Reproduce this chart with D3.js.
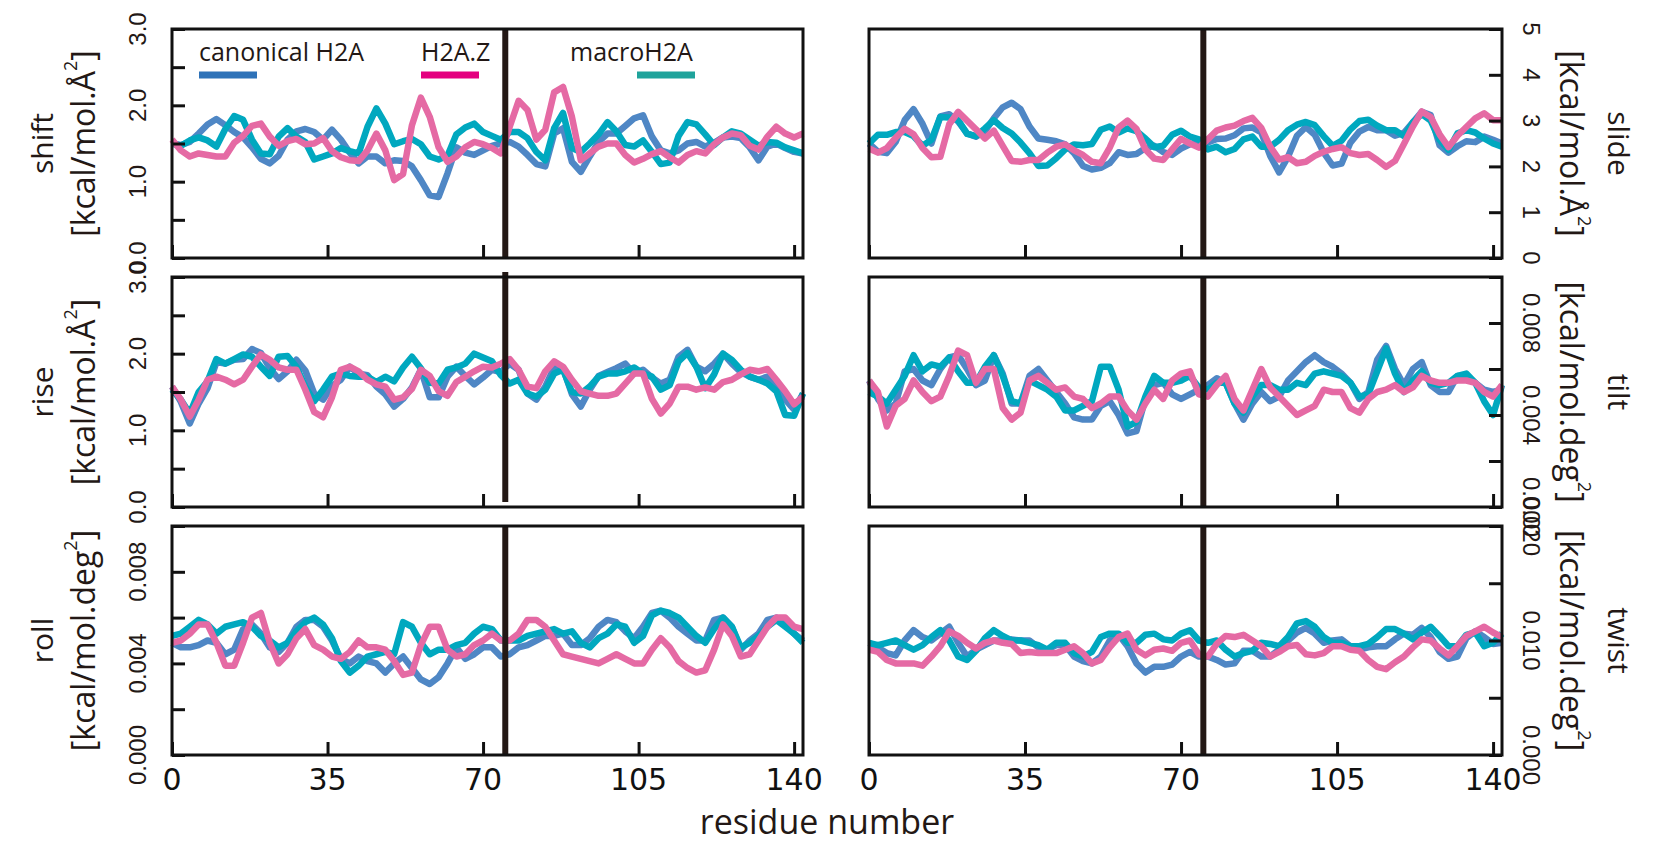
<!DOCTYPE html>
<html>
<head>
<meta charset="utf-8">
<script src="https://cdn.jsdelivr.net/npm/d3@7"></script>
<style>
  body { margin: 0; background: #fff; }
  svg { display: block; }
</style>
</head>
<body>
<svg id="chart"></svg>
<script>
// residue positions sampled every 2 residues
const residues = d3.range(0, 143, 2);
const seriesNames = ["canonical H2A", "H2A.Z", "macroH2A"];
const xTickValues = [0, 35, 70, 105, 140];
const boundaryResidue = 75;

// ---- shift [kcal/mol.Å2]
const shiftCanonical = [1.50,1.48,1.52,1.63,1.75,1.82,1.74,1.65,1.58,1.45, 1.30,1.24,1.34,1.55,1.66,1.69,1.65,1.55,1.68,1.55,
  1.38,1.24,1.33,1.33,1.24,1.28,1.27,1.20,1.02,0.82, 0.80,1.11,1.45,1.38,1.35,1.41,1.47,1.50,1.52,1.46,
  1.35,1.23,1.20,1.63,1.70,1.26,1.13,1.33,1.52,1.63, 1.63,1.73,1.83,1.87,1.59,1.41,1.37,1.41,1.50,1.52,
  1.46,1.51,1.58,1.59,1.57,1.45,1.28,1.46,1.50,1.44, 1.39,1.37];
const shiftH2AZ = [1.55,1.41,1.33,1.37,1.35,1.33,1.33,1.51,1.60,1.73, 1.76,1.59,1.47,1.53,1.56,1.49,1.50,1.57,1.40,1.32,
  1.28,1.27,1.41,1.63,1.41,1.02,1.10,1.74,2.10,1.85, 1.45,1.26,1.33,1.45,1.52,1.49,1.44,1.37,1.72,2.06,
  1.94,1.55,1.68,2.17,2.24,1.85,1.28,1.37,1.46,1.50, 1.50,1.35,1.25,1.30,1.36,1.40,1.32,1.25,1.35,1.40,
  1.37,1.49,1.58,1.63,1.61,1.47,1.42,1.59,1.72,1.63, 1.58,1.63];
const shiftMacro = [1.50,1.47,1.54,1.58,1.54,1.46,1.69,1.86,1.81,1.55, 1.37,1.36,1.59,1.70,1.59,1.52,1.29,1.33,1.37,1.44,
  1.40,1.37,1.72,1.96,1.76,1.49,1.53,1.56,1.49,1.33, 1.29,1.34,1.62,1.71,1.76,1.65,1.60,1.55,1.65,1.65,
  1.57,1.39,1.28,1.70,1.90,1.44,1.39,1.50,1.62,1.78, 1.66,1.48,1.46,1.54,1.39,1.23,1.25,1.60,1.78,1.75,
  1.62,1.48,1.58,1.66,1.63,1.55,1.47,1.52,1.51,1.45, 1.41,1.37];

// ---- slide [kcal/mol.Å2]
const slideCanonical = [2.50,2.32,2.29,2.54,3.01,3.25,2.93,2.50,3.09,3.14, 2.98,2.72,2.65,2.77,3.05,3.29,3.39,3.25,2.87,2.61,
  2.58,2.55,2.48,2.29,2.01,1.93,1.97,2.07,2.31,2.25, 2.27,2.40,2.45,2.31,2.25,2.39,2.48,2.54,2.52,2.60,
  2.61,2.68,2.83,2.85,2.74,2.23,1.87,2.21,2.67,2.86, 2.69,2.30,2.02,2.06,2.52,2.76,2.86,2.79,2.79,2.67,
  2.73,2.96,3.19,3.12,2.46,2.30,2.44,2.55,2.53,2.65, 2.58,2.50];
const slideH2AZ = [2.39,2.30,2.40,2.63,2.82,2.70,2.40,2.20,2.21,2.92, 3.19,3.00,2.81,2.61,2.78,2.45,2.12,2.10,2.14,2.14,
  2.30,2.43,2.48,2.35,2.25,2.10,2.07,2.41,2.85,3.00, 2.82,2.37,2.17,2.14,2.37,2.60,2.50,2.41,2.59,2.78,
  2.85,2.89,2.99,3.06,2.84,2.43,2.15,2.20,2.07,2.10, 2.23,2.32,2.38,2.42,2.29,2.25,2.27,2.14,1.99,2.12,
  2.49,2.87,3.20,3.08,2.70,2.42,2.67,2.86,3.05,3.16, 3.01,3.01];
const slideMacro = [2.50,2.69,2.69,2.75,2.75,2.66,2.45,2.58,3.08,3.07, 3.01,2.71,2.66,2.83,3.01,2.84,2.72,2.52,2.29,2.01,
  2.02,2.18,2.37,2.48,2.46,2.49,2.80,2.87,2.74,2.83, 2.77,2.61,2.42,2.45,2.69,2.78,2.65,2.59,2.37,2.43,
  2.31,2.38,2.59,2.65,2.43,2.43,2.58,2.79,2.91,2.97, 2.90,2.66,2.45,2.56,2.81,2.99,3.02,2.89,2.79,2.79,
  2.66,2.96,3.14,3.00,2.58,2.36,2.72,2.79,2.74,2.61, 2.50,2.43];

// ---- rise [kcal/mol.Å2]
const riseCanonical = [1.57,1.37,1.09,1.35,1.55,1.89,1.87,1.92,1.93,2.06, 2.01,1.81,1.67,1.77,1.92,1.78,1.48,1.40,1.58,1.66,
  1.83,1.74,1.72,1.57,1.47,1.31,1.41,1.56,1.79,1.43, 1.43,1.70,1.83,1.71,1.60,1.69,1.79,1.76,1.87,1.79,
  1.48,1.40,1.57,1.82,1.81,1.47,1.31,1.53,1.71,1.76, 1.81,1.87,1.74,1.79,1.69,1.61,1.66,1.96,2.05,1.83,
  1.77,1.87,2.00,1.87,1.76,1.70,1.66,1.70,1.57,1.40, 1.27,1.48];
const riseH2AZ = [1.57,1.40,1.18,1.40,1.66,1.70,1.66,1.60,1.66,1.83, 1.99,1.92,1.82,1.79,1.79,1.53,1.24,1.17,1.43,1.79,
  1.83,1.77,1.66,1.60,1.57,1.40,1.43,1.54,1.79,1.71, 1.51,1.45,1.63,1.70,1.77,1.83,1.82,1.87,1.93,1.79,
  1.57,1.55,1.77,1.90,1.83,1.66,1.51,1.48,1.45,1.45, 1.48,1.61,1.74,1.74,1.41,1.22,1.35,1.57,1.57,1.53,
  1.56,1.53,1.63,1.66,1.73,1.79,1.77,1.80,1.66,1.51, 1.34,1.44];
const riseMacro = [1.53,1.40,1.22,1.50,1.64,1.93,1.87,1.93,1.99,1.96, 1.83,1.71,1.96,1.97,1.83,1.57,1.38,1.53,1.70,1.74,
  1.71,1.70,1.70,1.63,1.70,1.64,1.82,1.96,1.81,1.62, 1.61,1.79,1.82,1.87,2.00,1.95,1.90,1.72,1.61,1.66,
  1.48,1.44,1.53,1.74,1.79,1.50,1.48,1.57,1.70,1.74, 1.74,1.77,1.82,1.74,1.70,1.53,1.59,1.90,2.01,1.83,
  1.55,1.73,2.00,1.92,1.79,1.70,1.66,1.61,1.51,1.20, 1.19,1.48];

// ---- tilt [kcal/mol.deg2]
const tiltCanonical = [0.0055,0.0047,0.0042,0.0045,0.0059,0.0060,0.0055,0.0053,0.0060,0.0065, 0.0066,0.0060,0.0053,0.0055,0.0066,0.0058,0.0045,0.0045,0.0057,0.0060,
  0.0055,0.0050,0.0045,0.0039,0.0038,0.0038,0.0044,0.0046,0.0040,0.0032, 0.0033,0.0047,0.0053,0.0054,0.0049,0.0047,0.0049,0.0051,0.0053,0.0056,
  0.0054,0.0045,0.0038,0.0045,0.0050,0.0046,0.0048,0.0055,0.0059,0.0063, 0.0066,0.0063,0.0061,0.0058,0.0054,0.0047,0.0050,0.0064,0.0070,0.0060,
  0.0053,0.0060,0.0063,0.0053,0.0050,0.0050,0.0057,0.0057,0.0054,0.0051, 0.0050,0.0051];
const tiltH2AZ = [0.0055,0.0050,0.0035,0.0044,0.0047,0.0055,0.0050,0.0046,0.0048,0.0057, 0.0068,0.0066,0.0054,0.0060,0.0060,0.0043,0.0038,0.0041,0.0055,0.0057,
  0.0054,0.0051,0.0052,0.0048,0.0047,0.0043,0.0045,0.0048,0.0048,0.0042, 0.0038,0.0045,0.0051,0.0047,0.0055,0.0058,0.0059,0.0049,0.0048,0.0053,
  0.0057,0.0047,0.0042,0.0051,0.0060,0.0052,0.0048,0.0044,0.0040,0.0042, 0.0044,0.0051,0.0050,0.0050,0.0043,0.0041,0.0047,0.0050,0.0051,0.0053,
  0.0050,0.0052,0.0057,0.0055,0.0054,0.0054,0.0055,0.0055,0.0054,0.0050, 0.0048,0.0053];
const tiltMacro = [0.0050,0.0048,0.0045,0.0051,0.0057,0.0066,0.0059,0.0062,0.0061,0.0065, 0.0059,0.0054,0.0054,0.0061,0.0066,0.0057,0.0046,0.0045,0.0055,0.0053,
  0.0051,0.0048,0.0042,0.0042,0.0044,0.0046,0.0061,0.0061,0.0051,0.0035, 0.0037,0.0048,0.0057,0.0054,0.0054,0.0055,0.0057,0.0052,0.0051,0.0054,
  0.0054,0.0045,0.0041,0.0048,0.0053,0.0053,0.0051,0.0051,0.0054,0.0053, 0.0058,0.0059,0.0058,0.0057,0.0054,0.0048,0.0049,0.0059,0.0069,0.0058,
  0.0050,0.0055,0.0059,0.0054,0.0053,0.0054,0.0057,0.0058,0.0054,0.0046, 0.0040,0.0053];

// ---- roll [kcal/mol.deg2]
const rollCanonical = [0.0049,0.0047,0.0047,0.0048,0.0050,0.0049,0.0044,0.0046,0.0055,0.0057, 0.0053,0.0047,0.0045,0.0049,0.0056,0.0059,0.0059,0.0056,0.0050,0.0042,
  0.0040,0.0043,0.0041,0.0040,0.0036,0.0040,0.0043,0.0038,0.0033,0.0031, 0.0034,0.0040,0.0047,0.0042,0.0044,0.0047,0.0047,0.0043,0.0044,0.0047,
  0.0048,0.0050,0.0052,0.0052,0.0053,0.0048,0.0048,0.0051,0.0056,0.0059, 0.0058,0.0054,0.0051,0.0056,0.0062,0.0063,0.0060,0.0056,0.0053,0.0050,
  0.0050,0.0059,0.0060,0.0056,0.0046,0.0050,0.0053,0.0059,0.0060,0.0057, 0.0053,0.0050];
const rollH2AZ = [0.0049,0.0050,0.0053,0.0057,0.0057,0.0049,0.0039,0.0039,0.0049,0.0060, 0.0062,0.0049,0.0040,0.0044,0.0051,0.0055,0.0048,0.0046,0.0043,0.0042,
  0.0045,0.0050,0.0047,0.0047,0.0046,0.0041,0.0035,0.0036,0.0048,0.0056, 0.0056,0.0046,0.0043,0.0044,0.0048,0.0050,0.0053,0.0050,0.0050,0.0053,
  0.0059,0.0059,0.0056,0.0050,0.0044,0.0043,0.0042,0.0041,0.0040,0.0042, 0.0044,0.0042,0.0040,0.0040,0.0046,0.0051,0.0047,0.0041,0.0038,0.0036,
  0.0037,0.0046,0.0057,0.0052,0.0043,0.0044,0.0050,0.0056,0.0060,0.0060, 0.0056,0.0055];
const rollMacro = [0.0052,0.0053,0.0056,0.0059,0.0057,0.0053,0.0056,0.0057,0.0058,0.0056, 0.0052,0.0050,0.0047,0.0049,0.0054,0.0058,0.0060,0.0057,0.0051,0.0041,
  0.0036,0.0039,0.0043,0.0044,0.0045,0.0044,0.0058,0.0056,0.0049,0.0044, 0.0046,0.0046,0.0048,0.0049,0.0053,0.0056,0.0055,0.0050,0.0050,0.0050,
  0.0052,0.0053,0.0054,0.0055,0.0053,0.0054,0.0049,0.0047,0.0051,0.0053, 0.0057,0.0056,0.0049,0.0052,0.0061,0.0063,0.0062,0.0060,0.0056,0.0052,
  0.0049,0.0055,0.0060,0.0056,0.0047,0.0049,0.0052,0.0056,0.0059,0.0056, 0.0053,0.0049];

// ---- twist [kcal/mol.deg2]
const twistCanonical = [0.0098,0.0094,0.0089,0.0087,0.0100,0.0109,0.0103,0.0100,0.0106,0.0112, 0.0098,0.0086,0.0092,0.0096,0.0100,0.0100,0.0101,0.0100,0.0100,0.0094,
  0.0092,0.0096,0.0096,0.0086,0.0082,0.0080,0.0086,0.0100,0.0105,0.0095, 0.0080,0.0072,0.0077,0.0077,0.0079,0.0086,0.0090,0.0086,0.0086,0.0083,
  0.0079,0.0080,0.0091,0.0091,0.0086,0.0086,0.0092,0.0100,0.0107,0.0111, 0.0106,0.0098,0.0100,0.0101,0.0095,0.0092,0.0094,0.0095,0.0095,0.0101,
  0.0106,0.0105,0.0111,0.0103,0.0090,0.0084,0.0086,0.0102,0.0108,0.0103, 0.0097,0.0098];
const twistH2AZ = [0.0092,0.0090,0.0083,0.0080,0.0080,0.0080,0.0078,0.0086,0.0095,0.0108, 0.0104,0.0098,0.0093,0.0098,0.0100,0.0098,0.0097,0.0089,0.0090,0.0089,
  0.0089,0.0089,0.0092,0.0095,0.0089,0.0080,0.0083,0.0094,0.0103,0.0106, 0.0092,0.0087,0.0092,0.0093,0.0091,0.0098,0.0100,0.0088,0.0086,0.0097,
  0.0104,0.0103,0.0105,0.0100,0.0095,0.0086,0.0090,0.0095,0.0096,0.0088, 0.0087,0.0089,0.0095,0.0095,0.0092,0.0091,0.0083,0.0077,0.0075,0.0081,
  0.0086,0.0094,0.0101,0.0100,0.0093,0.0087,0.0095,0.0104,0.0108,0.0112, 0.0107,0.0103];
const twistMacro = [0.0098,0.0096,0.0098,0.0100,0.0096,0.0092,0.0096,0.0103,0.0109,0.0100, 0.0086,0.0083,0.0091,0.0102,0.0109,0.0104,0.0100,0.0100,0.0098,0.0096,
  0.0092,0.0098,0.0098,0.0089,0.0086,0.0090,0.0103,0.0106,0.0106,0.0098, 0.0098,0.0105,0.0106,0.0101,0.0100,0.0106,0.0109,0.0100,0.0098,0.0100,
  0.0092,0.0086,0.0089,0.0091,0.0098,0.0097,0.0095,0.0103,0.0115,0.0117, 0.0112,0.0103,0.0098,0.0098,0.0095,0.0095,0.0097,0.0103,0.0110,0.0110,
  0.0106,0.0101,0.0107,0.0112,0.0104,0.0095,0.0095,0.0105,0.0107,0.0095, 0.0098,0.0106];

// layout
const W = 1657, H = 844;
const ink = "#231815";
const colX = [[172, 803], [869, 1502]];
const rowY = [[29, 258], [277, 507], [526, 755]];
const colors = {canonical: "#4f87c5", macro: "#00a8bf", h2az: "#e56aa4"};
const drawOrder = ["canonical", "macro", "h2az"];
const titleFont = "'Open Sans', 'Noto Sans', sans-serif";

const panels = [
  {title: "shift", unit: "Å", col: 0, row: 0, domain: [0, 3], step: 0.5, every: 2, fmt: d3.format(".1f"),
   series: {canonical: shiftCanonical, h2az: shiftH2AZ, macro: shiftMacro}},
  {title: "slide", unit: "Å", col: 1, row: 0, domain: [0, 5], step: 1, every: 1, fmt: d3.format("d"),
   series: {canonical: slideCanonical, h2az: slideH2AZ, macro: slideMacro}},
  {title: "rise", unit: "Å", col: 0, row: 1, domain: [0, 3], step: 0.5, every: 2, fmt: d3.format(".1f"), sepDy: -5,
   series: {canonical: riseCanonical, h2az: riseH2AZ, macro: riseMacro}},
  {title: "tilt", unit: "deg", col: 1, row: 1, domain: [0, 0.01], step: 0.002, every: 2, fmt: d3.format(".3f"),
   series: {canonical: tiltCanonical, h2az: tiltH2AZ, macro: tiltMacro}},
  {title: "roll", unit: "deg", col: 0, row: 2, domain: [0, 0.01], step: 0.002, every: 2, fmt: d3.format(".3f"),
   series: {canonical: rollCanonical, h2az: rollH2AZ, macro: rollMacro}},
  {title: "twist", unit: "deg", col: 1, row: 2, domain: [0, 0.02], step: 0.005, every: 2, fmt: d3.format(".3f"),
   series: {canonical: twistCanonical, h2az: twistH2AZ, macro: twistMacro}}
];

const svg = d3.select("#chart").attr("width", W).attr("height", H);

panels.forEach(p => {
  const [x0, x1] = colX[p.col];
  const [y0, y1] = rowY[p.row];
  const left = p.col === 0;

  const x = d3.scaleLinear().domain([0, 142]).range([x0, x1]);
  const y = d3.scaleLinear().domain(p.domain).range([y1, y0]);
  const n = Math.round((p.domain[1] - p.domain[0]) / p.step);
  const yTicks = d3.range(n + 1).map(i => p.domain[0] + i * p.step);

  const g = svg.append("g").attr("class", "panel " + p.title);

  // data lines
  const line = d3.line()
    .x((d, i) => x(residues[i]))
    .y(d => y(d));
  drawOrder.forEach(k => {
    g.append("path")
      .datum(p.series[k])
      .attr("d", line)
      .attr("fill", "none")
      .attr("stroke", colors[k])
      .attr("stroke-width", 6.5)
      .attr("stroke-linejoin", "round");
  });

  // boundary between the two histone copies
  const dy = p.sepDy || 0;
  g.append("line")
    .attr("x1", x(boundaryResidue)).attr("x2", x(boundaryResidue))
    .attr("y1", y0 + dy).attr("y2", y1 + dy)
    .attr("stroke", ink).attr("stroke-width", 6);

  // axes (ticks pointing inward)
  const yAxis = (left ? d3.axisLeft(y) : d3.axisRight(y))
    .tickValues(yTicks).tickSize(-13).tickFormat("");
  g.append("g")
    .attr("transform", `translate(${left ? x0 : x1},0)`)
    .call(yAxis)
    .call(a => a.select(".domain").remove())
    .selectAll("line").attr("stroke", "#111").attr("stroke-width", 3);

  const xAxis = d3.axisBottom(x).tickValues(xTickValues).tickSize(-13).tickFormat("");
  g.append("g")
    .attr("transform", `translate(0,${y1})`)
    .call(xAxis)
    .call(a => a.select(".domain").remove())
    .selectAll("line").attr("stroke", "#111").attr("stroke-width", 3);

  // frame
  g.append("rect")
    .attr("x", x0).attr("y", y0)
    .attr("width", x1 - x0).attr("height", y1 - y0)
    .attr("fill", "none").attr("stroke", "#111").attr("stroke-width", 3);

  // y tick labels, rotated
  const lx = left ? 137 : 1531;
  g.selectAll("text.ylab")
    .data(yTicks.filter((t, i) => i % p.every === 0))
    .join("text")
    .attr("class", "ylab")
    .attr("transform", t => `translate(${lx},${y(t)}) rotate(${left ? -90 : 90})`)
    .attr("text-anchor", "middle")
    .attr("dominant-baseline", "central")
    .style("font-family", "'Liberation Sans', Arial, sans-serif")
    .style("font-size", "24px")
    .attr("fill", ink)
    .text(p.fmt);

  // x tick labels on bottom row
  if (p.row === 2) {
    g.selectAll("text.xlab")
      .data(xTickValues)
      .join("text")
      .attr("class", "xlab")
      .attr("x", d => x(d)).attr("y", 790)
      .attr("text-anchor", "middle")
      .style("font-family", "'DejaVu Sans', sans-serif")
      .style("font-size", "30px")
      .attr("fill", "#111")
      .text(d => d);
  }

  // axis title (two lines)
  const cy = (y0 + y1) / 2;
  const tx1 = left ? 41 : 1619;
  const tx2 = left ? 82 : 1573;
  const rot = left ? -90 : 90;
  g.append("text")
    .attr("transform", `translate(${tx1},${cy}) rotate(${rot})`)
    .attr("text-anchor", "middle").attr("dominant-baseline", "central")
    .style("font-family", titleFont).style("font-size", "30px")
    .attr("fill", ink)
    .text(p.title);
  const u = g.append("text")
    .attr("transform", `translate(${tx2},${cy}) rotate(${rot})`)
    .attr("text-anchor", "middle").attr("dominant-baseline", "central")
    .style("font-family", titleFont).style("font-size", "32px")
    .attr("fill", ink);
  u.append("tspan").text(`[kcal/mol.${p.unit}`);
  u.append("tspan").attr("dy", -12).style("font-size", "18px").text("2");
  u.append("tspan").attr("dy", 12).text("]");
});

// legend in the first panel
const legendItems = [
  {name: seriesNames[0], tx: 199, bar: [199, 257], color: "#2e72b8"},
  {name: seriesNames[1], tx: 421, bar: [421, 479], color: "#e4007f"},
  {name: seriesNames[2], tx: 570, bar: [637, 695], color: "#1fa39b"}
];
const lg = svg.append("g").attr("class", "legend");
legendItems.forEach(d => {
  lg.append("text")
    .attr("x", d.tx).attr("y", 61)
    .style("font-family", titleFont)
    .style("font-size", "25px")
    .attr("fill", ink)
    .text(d.name);
  lg.append("line")
    .attr("x1", d.bar[0]).attr("x2", d.bar[1])
    .attr("y1", 75).attr("y2", 75)
    .attr("stroke", d.color).attr("stroke-width", 7);
});

// x axis title
svg.append("text")
  .attr("x", 827).attr("y", 834)
  .attr("text-anchor", "middle")
  .style("font-family", titleFont)
  .style("font-size", "34px")
  .attr("fill", ink)
  .text("residue number");
</script>
</body>
</html>
